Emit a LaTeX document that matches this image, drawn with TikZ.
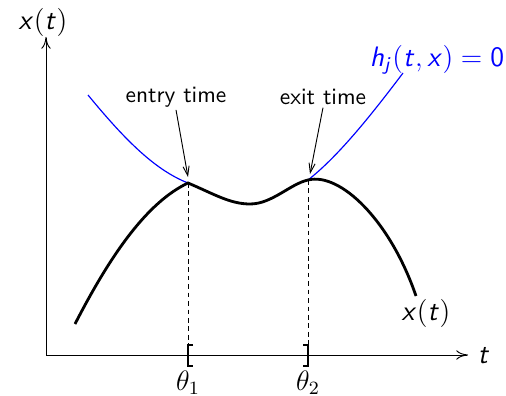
\documentclass[tikz,border=0pt]{standalone}
\usepackage{amsmath}
\usepackage{tikz}
\usetikzlibrary{arrows.meta,positioning,calc}
\DeclareMathAlphabet{\mathsfit}{OT1}{cmss}{m}{sl}
\DeclareMathAlphabet{\mathsfup}{OT1}{cmss}{m}{n}
\definecolor{hblue}{HTML}{0000FF}
\tikzset{
  axis/.style     = {line width=0.4pt, {To[length=5pt,width=4pt]}-{To[length=5pt,width=4pt]}},
  traj/.style     = {draw=black, line width=1.2pt},
  bnd/.style      = {draw=hblue, line width=0.5pt},
  guide/.style    = {draw=black, line width=0.35pt, dash pattern=on 2pt off 1.6pt},
  brk/.style      = {draw=black, line width=0.45pt},
  arr/.style      = {-{Straight Barb[length=4pt,width=2.6pt]}, line width=0.4pt},
  tlab/.style     = {font=\sffamily, inner sep=1pt},
  mlab/.style     = {font=\large, inner sep=1pt},
}
\begin{document}
\begin{tikzpicture}[x=0.015cm,y=-0.015cm]
  \useasboundingbox (0,0) rectangle (506,396);
  % axes
  \coordinate (O)    at (46,355);
  \coordinate (tend) at (468,355);
  \coordinate (xend) at (46,37);
  \draw[axis] (xend) -- (O) -- (tend);
  \node[mlab, anchor=west] (tax) at ([xshift=3pt]tend) {$\mathsfit{t}$};
  \node[mlab] (xax) at (43,22) {$\mathsfit{x}(\mathsfit{t})$};

  % points on the trajectory
  \coordinate (xstart) at (75,324);
  \coordinate (entry)  at (188,183);
  \coordinate (xmin)   at (250,204);
  \coordinate (exit)   at (308,180);
  \coordinate (xstop)  at (416,296);
  \coordinate (hstart) at (88,95);
  \coordinate (hstop)  at (403,73);

  % constraint boundary
  \draw[bnd] (hstart) .. controls (125,140) and (155,170) .. (entry);
  \draw[bnd] (exit) .. controls (340,155) and (375,110) .. (hstop);
  \node[mlab, text=hblue] (hlab) at (437,60) {$\mathsfit{h}_{\mathsfit{j}}(\mathsfit{t},\mathsfit{x})=\mathsfup{0}$};

  % trajectory
  \draw[traj] (xstart) .. controls (112,252) and (148,202) .. (entry)
              .. controls (214,194) and (230,204) .. (xmin)
              .. controls (272,204) and (290,184) .. (exit)
              .. controls (340,172) and (390,220) .. (xstop);
  \node[mlab] (xlab) at (426,313) {$\mathsfit{x}(\mathsfit{t})$};

  % entry / exit times
  \draw[guide] (entry) -- (entry |- O);
  \draw[guide] (exit) -- (exit |- O);
  \draw[brk] ($(entry |- O)+(5,-10)$) -- ++(-5,0) -- ++(0,21) -- ++(5,0);
  \draw[brk] ($(exit |- O)+(-5,-10)$) -- ++(5,0) -- ++(0,21) -- ++(-5,0);
  \node[mlab] (th1) at ($(entry |- O)+(0,27.5)$) {$\theta_1$};
  \node[mlab] (th2) at ($(exit |- O)+(0,27.5)$) {$\theta_2$};

  \node[tlab] (entrylab) at (176,97) {entry time};
  \node[tlab] (exitlab)  at (323,97) {exit time};
  \draw[arr] (entrylab.south) -- ($(entry)+(0,-6)$);
  \draw[arr] (exitlab.south) -- ($(exit)+(2,-6)$);
\end{tikzpicture}
\end{document}
